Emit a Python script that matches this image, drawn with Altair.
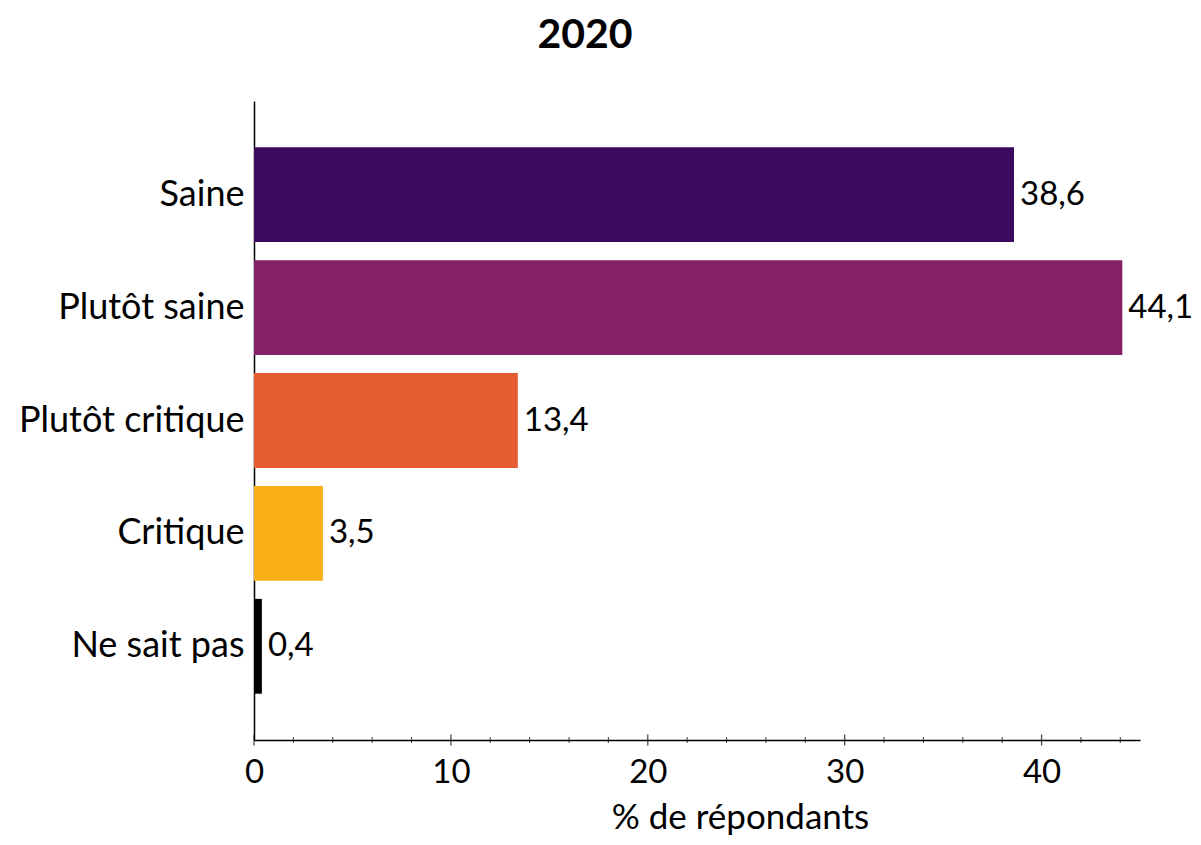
import altair as alt
import pandas as pd

categories = ["Saine", "Plutôt saine", "Plutôt critique", "Critique", "Ne sait pas"]
values = [38.6, 44.1, 13.4, 3.5, 0.4]
colors = ["#3C0A5E", "#842166", "#E45D31", "#FBB015", "#000000"]
major_ticks = [0, 10, 20, 30, 40]
minor_ticks = [2, 4, 6, 8, 12, 14, 16, 18, 22, 24, 26, 28, 32, 34, 36, 38, 42, 44]

FONT = "Lato"
W, H = 886, 639

df = pd.DataFrame({"cat": categories, "val": values, "color": colors})
major_df = pd.DataFrame({"t": major_ticks})
minor_df = pd.DataFrame({"t": minor_ticks})

x_scale = alt.Scale(domain=[0, 45], nice=False, zero=True)
y_scale = alt.Scale(domain=categories, paddingInner=0.16, paddingOuter=0.41)

bars = alt.Chart(df).mark_bar().encode(
    x=alt.X("val:Q", scale=x_scale,
            axis=alt.Axis(values=major_ticks, title="% de répondants", ticks=False, tickSize=0,
                          grid=False, labelFontSize=33, labelFont=FONT, labelColor="black",
                          labelPadding=16, labelFlush=False, titleFont=FONT, titleFontSize=35,
                          titleFontWeight="normal", titleColor="black", titleX=486, titleY=88,
                          titleBaseline="alphabetic", titleAlign="center",
                          domainColor="black", domainWidth=1.5)),
    y=alt.Y("cat:N", sort=categories, scale=y_scale,
            axis=alt.Axis(title=None, ticks=False, tickSize=0, labelFontSize=36, labelFont=FONT,
                          labelColor="black", labelPadding=10, labelLimit=500,
                          domainColor="black", domainWidth=1.5)),
    color=alt.Color("color:N", scale=None),
)

labels = alt.Chart(df).transform_calculate(
    lab="replace(format(datum.val, '.1f'), '.', ',')"
).mark_text(align="left", baseline="middle", dx=6, fontSize=33, font=FONT, color="black").encode(
    x=alt.X("val:Q", scale=x_scale),
    y=alt.Y("cat:N", sort=categories, scale=y_scale),
    text="lab:N",
)

major = alt.Chart(major_df).mark_tick(color="black", thickness=1.3, size=11).encode(
    x=alt.X("t:Q", scale=x_scale), y=alt.value(H)
)
minor = alt.Chart(minor_df).mark_tick(color="black", thickness=1.1, size=6).encode(
    x=alt.X("t:Q", scale=x_scale), y=alt.value(H)
)

chart = alt.layer(bars, labels, major, minor).properties(
    width=W, height=H,
    title=alt.TitleParams("2020", font=FONT, fontSize=41, fontWeight="bold", color="black",
                          anchor="middle", dx=-112, offset=12, baseline="alphabetic"),
    autosize=alt.AutoSizeParams(type="none"),
    padding={"left": 246, "top": 93, "right": 53, "bottom": 97},
).configure(background="white").configure_view(strokeWidth=0, stroke="transparent")

chart.save("out.html", embed_options={"renderer": "svg", "actions": False})
